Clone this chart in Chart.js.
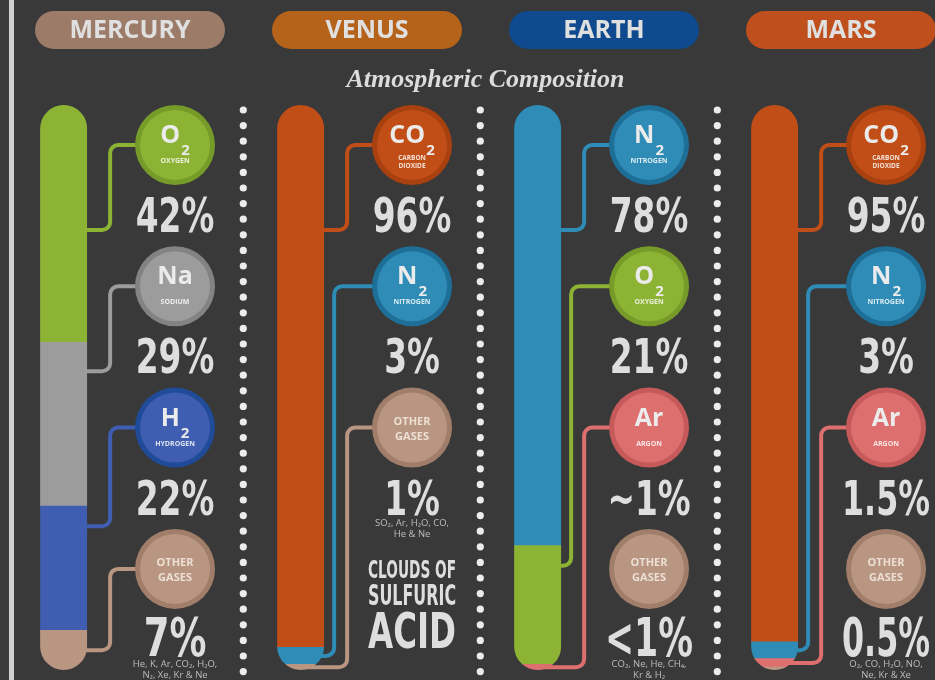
<!DOCTYPE html>
<html>
<head>
<meta charset="utf-8">
<title>Atmospheric Composition</title>
<script src="https://cdn.jsdelivr.net/npm/chart.js@4.4.1/dist/chart.umd.min.js"></script>
<style>
  html, body { margin: 0; padding: 0; background: #393939; }
  #wrap { width: 935px; height: 680px; }
</style>
</head>
<body>
<div id="wrap"><canvas id="atmos" width="935" height="680"></canvas></div>
<script>
const planets = ['MERCURY', 'VENUS', 'EARTH', 'MARS'];
const planetColors = ['#9c7b69', '#b5621a', '#0f4a8e', '#bf4f1c'];

// gases in each tube, listed from the top down
const mercuryGases = ['O2', 'Na', 'H2', 'other'];
const venusGases = ['CO2', 'N2', 'other'];
const earthGases = ['N2', 'O2', 'Ar', 'other'];
const marsGases = ['CO2', 'N2', 'Ar', 'other'];

// share of each gas, percent
const mercuryShare = [42, 29, 22, 7];
const venusShare = [96, 3, 1];
const earthShare = [78, 21, 1, 0];
const marsShare = [95, 3, 1.5, 0.5];

// printed figures
const mercuryLabels = ['42%', '29%', '22%', '7%'];
const venusLabels = ['96%', '3%', '1%'];
const earthLabels = ['78%', '21%', '~1%', '<1%'];
const marsLabels = ['95%', '3%', '1.5%', '0.5%'];

// trace gases under the "other gases" figure
const mercuryTrace = ['He, K, Ar, CO₂, H₂O,', 'N₂, Xe, Kr & Ne'];
const venusTrace = ['SO₂, Ar, H₂O, CO,', 'He & Ne'];
const earthTrace = ['CO₂, Ne, He, CH₄,', 'Kr & H₂'];
const marsTrace = ['O₂, CO, H₂O, NO,', 'Ne, Kr & Xe'];

const venusClouds = ['CLOUDS OF', 'SULFURIC', 'ACID'];

const gases = [mercuryGases, venusGases, earthGases, marsGases];
const shares = [mercuryShare, venusShare, earthShare, marsShare];
const labels = [mercuryLabels, venusLabels, earthLabels, marsLabels];
const traces = [mercuryTrace, venusTrace, earthTrace, marsTrace];

// badge look for every gas
const GAS = {
  O2:    { sym: 'O',  sub: '2', name: ['OXYGEN'],            fill: '#8db334', ring: '#769b29' },
  Na:    { sym: 'Na', sub: '',  name: ['SODIUM'],            fill: '#9c9c9c', ring: '#838383' },
  H2:    { sym: 'H',  sub: '2', name: ['HYDROGEN'],          fill: '#3f5eb1', ring: '#1f4b98' },
  CO2:   { sym: 'CO', sub: '2', name: ['CARBON', 'DIOXIDE'], fill: '#c24e17', ring: '#a8410f' },
  N2:    { sym: 'N',  sub: '2', name: ['NITROGEN'],          fill: '#2f8cb6', ring: '#1e6f98' },
  Ar:    { sym: 'Ar', sub: '',  name: ['ARGON'],             fill: '#de6f6f', ring: '#c65a5a' },
  other: { sym: '',   sub: '',  name: ['OTHER', 'GASES'],    fill: '#b99682', ring: '#a07e6a' }
};

const BAR_SHIFT = -0.28;   // tube sits left of the column centre
const BADGE_SHIFT = 0.19;  // badges and figures to the right
const NARROW = '"Liberation Sans Narrow", "DejaVu Sans Condensed", sans-serif';

// slot 0 is the top gas, so it has to be stacked last
const datasets = [3, 2, 1, 0].map(slot => ({
  label: 'slot ' + slot,
  data: shares.map((s, i) => ({ x: i + BAR_SHIFT, y: s[slot] || 0 })),
  backgroundColor: gases.map(g => g[slot] ? GAS[g[slot]].fill : 'transparent'),
  borderWidth: 0,
  barThickness: 47
}));

function rowY(area, slot) {
  return area.top + 40 + slot * 141.3;
}

function circle(ctx, x, y, r) {
  ctx.beginPath();
  ctx.arc(x, y, r, 0, Math.PI * 2);
  ctx.fill();
}

// tall squeezed lettering for the big figures
function narrowText(ctx, text, x, y, size, sx, maxW) {
  ctx.save();
  ctx.translate(x, y);
  ctx.scale(sx, 1);
  ctx.font = 'bold ' + size + 'px ' + NARROW;
  ctx.fillText(text, 0, 0, maxW / sx);
  ctx.restore();
}

const layoutPlugin = {
  id: 'atmosLayout',
  beforeDraw(chart) {
    const { ctx, width, height, chartArea } = chart;
    const x = chart.scales.x;
    ctx.save();
    ctx.fillStyle = '#393939';
    ctx.fillRect(0, 0, width, height);
    ctx.fillStyle = '#d0d0d0';
    ctx.fillRect(9, 0, 5, height);

    ctx.textAlign = 'center';
    planets.forEach((name, i) => {
      const cx = x.getPixelForValue(i);
      ctx.fillStyle = planetColors[i];
      ctx.beginPath();
      ctx.roundRect(cx - 95, 11, 190, 38, 19);
      ctx.fill();
      ctx.fillStyle = '#e0e0e0';
      ctx.font = 'bold 25px "Open Sans", sans-serif';
      ctx.textBaseline = 'middle';
      ctx.fillText(name, cx, 31);

      if (i < planets.length - 1) {
        const dx = x.getPixelForValue(i + 0.478);
        ctx.fillStyle = '#ececec';
        for (let y = chartArea.top + 5; y < height - 6; y += 15.6) circle(ctx, dx, y, 3.6);
      }
    });

    ctx.fillStyle = '#dcdcdc';
    ctx.font = 'italic bold 26px "Liberation Serif", serif';
    ctx.textBaseline = 'alphabetic';
    ctx.fillText('Atmospheric Composition', x.getPixelForValue(1.5), 87, 290);
    ctx.restore();
  },

  beforeDatasetsDraw(chart) {
    const { ctx, chartArea } = chart;
    const x = chart.scales.x;
    ctx.save();
    ctx.lineWidth = 4;
    ctx.lineCap = 'round';
    gases.forEach((list, i) => {
      const links = [];
      list.forEach((key, slot) => {
        if (shares[i][slot] < 1) return;
        const bar = chart.getDatasetMeta(3 - slot).data[i];
        const cy = rowY(chartArea, slot);
        const m = Math.min(20, (bar.base - bar.y) / 2);
        const entry = Math.min(Math.max(cy + 85, bar.y + m), bar.base - m);
        links.push({ key, cy, entry, bar });
      });
      links.forEach((l, k) => {
        const next = links[k + 1];
        const inner = next && next.cy < l.entry;
        const right = l.bar.x + l.bar.width / 2;
        const vx = right + (inner ? 10 : 23);
        const bx = x.getPixelForValue(i + BADGE_SHIFT) - 38;
        ctx.strokeStyle = GAS[l.key].fill;
        ctx.beginPath();
        ctx.moveTo(l.bar.x, l.entry);
        ctx.arcTo(vx, l.entry, vx, l.cy, 8);
        ctx.arcTo(vx, l.cy, bx, l.cy, 8);
        ctx.lineTo(bx, l.cy);
        ctx.stroke();
      });
    });
    ctx.restore();

    // round tubes
    ctx.save();
    ctx.beginPath();
    chart.getDatasetMeta(0).data.forEach(bar => {
      ctx.roundRect(bar.x - bar.width / 2, chartArea.top, bar.width, chartArea.height, bar.width / 2);
    });
    ctx.clip();
  },

  afterDatasetsDraw(chart) {
    const { ctx, chartArea } = chart;
    const x = chart.scales.x;
    ctx.restore();
    ctx.save();
    ctx.textAlign = 'center';
    ctx.textBaseline = 'alphabetic';

    gases.forEach((list, i) => {
      const cx = x.getPixelForValue(i + BADGE_SHIFT);
      list.forEach((key, slot) => {
        const st = GAS[key];
        const cy = rowY(chartArea, slot);
        ctx.fillStyle = st.ring;
        circle(ctx, cx, cy, 40);
        ctx.fillStyle = st.fill;
        circle(ctx, cx, cy, 35);

        if (st.sym) {
          ctx.font = 'bold 25px "Open Sans", sans-serif';
          const w1 = ctx.measureText(st.sym).width;
          ctx.font = 'bold 15px "Open Sans", sans-serif';
          const w2 = st.sub ? ctx.measureText(st.sub).width + 1 : 0;
          const left = cx - (w1 + w2) / 2;
          ctx.textAlign = 'left';
          ctx.fillStyle = '#ebebeb';
          ctx.font = 'bold 25px "Open Sans", sans-serif';
          ctx.fillText(st.sym, left, cy - 2);
          if (st.sub) {
            ctx.font = 'bold 15px "Open Sans", sans-serif';
            ctx.fillText(st.sub, left + w1 + 1, cy + 10);
          }
          ctx.textAlign = 'center';
          ctx.fillStyle = 'rgba(255,255,255,0.82)';
          if (st.name.length === 1) {
            ctx.font = 'bold 7px "Open Sans", sans-serif';
            ctx.fillText(st.name[0], cx, cy + 18);
          } else {
            ctx.font = 'bold 6.5px "Open Sans", sans-serif';
            ctx.fillText(st.name[0], cx, cy + 15);
            ctx.fillText(st.name[1], cx, cy + 23);
          }
        } else {
          ctx.fillStyle = '#ecdfd4';
          ctx.font = 'bold 11px "Open Sans", sans-serif';
          ctx.fillText(st.name[0], cx, cy - 3);
          ctx.fillText(st.name[1], cx, cy + 12);
        }

        // figure
        const base = cy + 87;
        ctx.fillStyle = '#dedede';
        narrowText(ctx, labels[i][slot], cx, base, slot === 3 ? 54 : 48, 0.76, 88);

        if (key === 'other') {
          ctx.fillStyle = '#bdbdbd';
          ctx.font = '9.5px "Open Sans", sans-serif';
          ctx.fillText(traces[i][0], cx, base + 11);
          ctx.fillText(traces[i][1], cx, base + 22);
        }
      });
    });

    // Venus has a spare row for its cloud deck
    const vx = x.getPixelForValue(1 + BADGE_SHIFT);
    ctx.fillStyle = '#dedede';
    narrowText(ctx, venusClouds[0], vx, 578, 24, 0.8, 88);
    narrowText(ctx, venusClouds[1], vx, 605, 28, 0.8, 88);
    narrowText(ctx, venusClouds[2], vx, 648, 50, 0.8, 88);
    ctx.restore();
  }
};

new Chart(document.getElementById('atmos'), {
  type: 'bar',
  data: { datasets: datasets },
  options: {
    responsive: false,
    animation: false,
    devicePixelRatio: 1,
    layout: { padding: { left: 11.5, right: 0, top: 105, bottom: 10 } },
    plugins: { legend: { display: false }, tooltip: { enabled: false } },
    scales: {
      x: { type: 'linear', min: -0.5, max: 3.3966, stacked: true, offset: false, display: false },
      y: { min: 0, max: 100, stacked: true, display: false }
    }
  },
  plugins: [layoutPlugin]
});
</script>
</body>
</html>
